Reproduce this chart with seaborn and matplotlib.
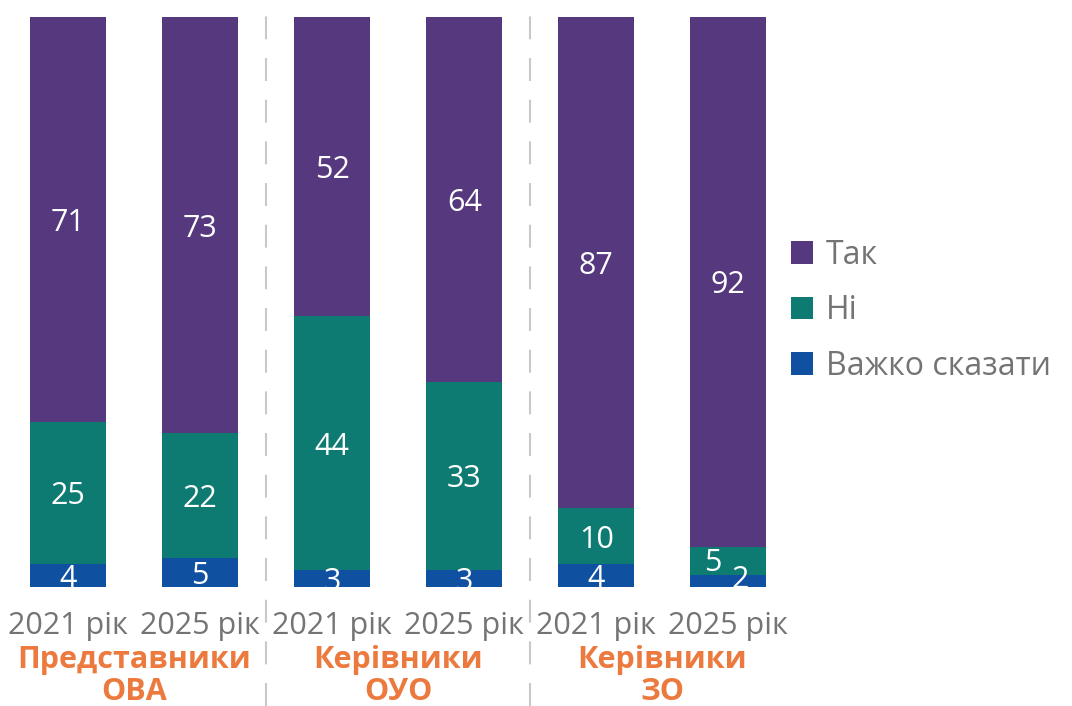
import matplotlib
matplotlib.use("Agg")
import numpy as np
import pandas as pd
import matplotlib.pyplot as plt
from matplotlib.patches import Patch
import seaborn as sns

groups = ["Представники\nОВА", "Керівники\nОУО", "Керівники\nЗО"]
years = ["2021 рік", "2025 рік"]
hard_to_say = [4, 5, 3, 3, 4, 2]   # Важко сказати
no = [25, 22, 44, 33, 10, 5]        # Ні
yes = [71, 73, 52, 64, 87, 92]      # Так
series_names = ["Так", "Ні", "Важко сказати"]
colors = {"Так": "#55387D", "Ні": "#0E7B73", "Важко сказати": "#1050A0"}

sns.set_theme(style="white")
plt.rcParams["font.family"] = ["Open Sans", "DejaVu Sans"]

bar_ids = [f"{g}|{y}" for g in groups for y in years]
df = pd.DataFrame({"bar": bar_ids, "hard": hard_to_say, "no": no, "yes": yes})
total = df[["hard", "no", "yes"]].sum(axis=1)
df["hard_p"] = df["hard"] / total * 100
df["no_p"] = df["no"] / total * 100
df["yes_p"] = df["yes"] / total * 100
df["c1"] = df["hard_p"]
df["c2"] = df["hard_p"] + df["no_p"]
df["c3"] = df["c2"] + df["yes_p"]

fig = plt.figure(figsize=(10.72, 7.06), dpi=100)
ax = fig.add_axes([0.002, 0.1686, 0.739, 0.8074])

# stacked bars drawn as cumulative layers
for col, name in [("c3", "Так"), ("c2", "Ні"), ("c1", "Важко сказати")]:
    sns.barplot(data=df, x="bar", y=col, color=colors[name], width=0.575,
                saturation=1, linewidth=0, ax=ax, order=bar_ids)

ax.set_ylim(0, 100)
ax.set_xlim(-0.5, 5.5)
ax.set_ylabel("")
ax.set_xlabel("")
ax.set_yticks([])
for s in ax.spines.values():
    s.set_visible(False)

# value labels
nudges = {(5, "no"): (-0.12, 0.3), (5, "hard"): (0.09, 0.8)}
for i in range(len(df)):
    r = df.iloc[i]
    segs = [("hard", 0, r["c1"], r["hard"]),
            ("no", r["c1"], r["c2"], r["no"]),
            ("yes", r["c2"], r["c3"], r["yes"])]
    for key, lo, hi, v in segs:
        dx, dy = nudges.get((i, key), (0, 0))
        ax.text(i + dx, (lo + hi) / 2 + dy, f"{v}", ha="center", va="center_baseline",
                color="white", fontsize=22)

# x tick labels
ax.set_xticks(range(len(bar_ids)))
ax.set_xticklabels(years * len(groups), fontsize=22, color="#747474")
ax.tick_params(axis="x", length=0, pad=17)

# group labels
for gi, g in enumerate(groups):
    ax.text(gi * 2 + 0.5, -15.6, g, ha="center", va="center", fontsize=22,
            fontweight="bold", color="#EC7A3E", linespacing=1.08,
            transform=ax.transData, clip_on=False)

# dashed separators
for xs in [1.5, 3.5]:
    ax.axvline(xs, ymin=-0.209, ymax=1.03, color="#C8C8C8", lw=1.5,
               dashes=(11, 9), clip_on=False)

handles = [Patch(facecolor=colors[n], edgecolor="none", label=n) for n in series_names]
fig.legend(handles=handles, loc="center left", bbox_to_anchor=(0.711, 0.56),
           frameon=False, fontsize=23, labelcolor="#747474", handlelength=0.7,
           handleheight=0.7, handletextpad=0.4, labelspacing=0.7)

fig.savefig("out.png", dpi=100)
